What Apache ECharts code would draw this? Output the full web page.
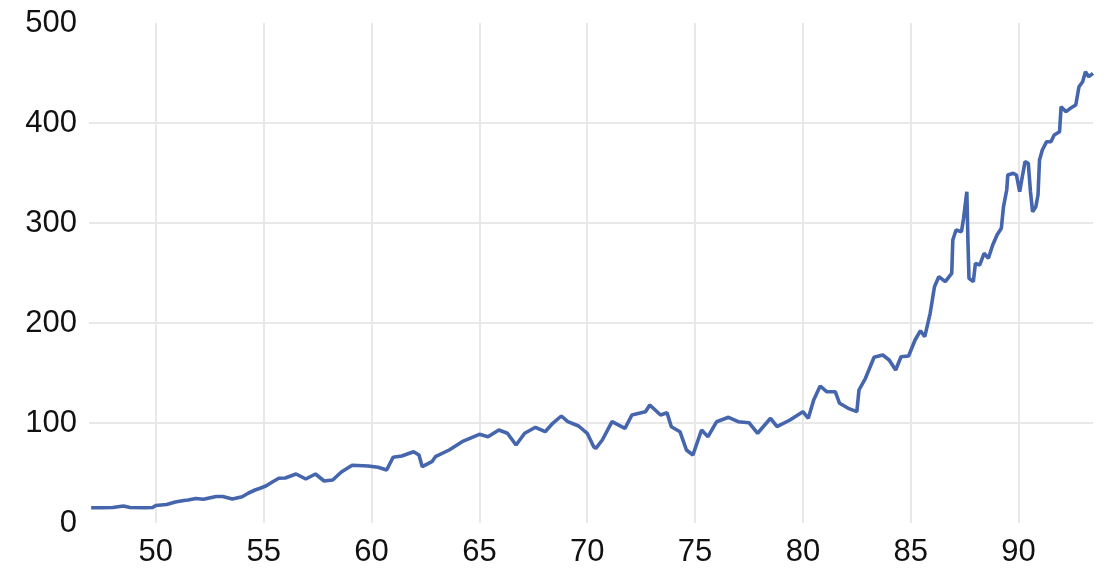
<!DOCTYPE html>
<html><head><meta charset="utf-8">
<script src="https://cdn.jsdelivr.net/npm/echarts@6/dist/echarts.min.js"></script>
<style>html,body{margin:0;padding:0;background:#fff}#c{width:1118px;height:580px}</style>
</head><body><div id="c"></div>
<script>
const years = [47.0,47.5,48.0,48.5,48.8,49.5,49.85,50.0,50.5,50.9,51.3,51.5,51.85,52.2,52.8,53.1,53.55,54.0,54.3,54.6,54.8,55.1,55.4,55.7,56.0,56.5,56.95,57.4,57.8,58.2,58.6,59.1,59.85,60.3,60.7,61.0,61.4,61.95,62.2,62.35,62.8,62.96,63.6,64.2,65.0,65.4,65.9,66.3,66.7,67.1,67.6,68.05,68.4,68.8,69.1,69.6,70.0,70.3,70.4,70.7,71.15,71.75,72.07,72.7,72.9,73.4,73.7,73.9,74.3,74.6,74.9,75.3,75.6,76.0,76.55,77.0,77.5,77.9,78.5,78.8,79.4,80.0,80.25,80.5,80.8,81.1,81.5,81.7,82.1,82.5,82.6,82.9,83.3,83.7,84.0,84.3,84.55,84.9,85.2,85.45,85.65,85.9,86.1,86.3,86.6,86.9,86.95,87.1,87.35,87.45,87.6,87.65,87.7,87.9,88.0,88.2,88.4,88.6,88.8,89.0,89.2,89.3,89.45,89.5,89.75,89.9,90.05,90.2,90.3,90.45,90.55,90.65,90.8,90.9,90.97,91.1,91.3,91.5,91.65,91.9,91.97,92.2,92.4,92.65,92.8,92.97,93.1,93.25,93.45];
const values = [15.3,15.3,15.5,17,15.5,15.3,15.5,17.5,18.5,21,22.5,23,24.5,23.7,26.5,26.5,24,26.3,30,33,34.5,37,41,44.7,45,49,44,49,42,43,51,57.7,57,55.7,53,65.7,67,71.3,68,56.3,61.3,66.3,73,81.3,88.7,86.3,93,89.7,78,89.7,95.7,91.3,99.7,107,101.3,97,89.7,76.3,74.7,83,101.3,94.7,108,111.3,118,108,110.3,96.3,91.3,73,68,93,86.3,101.3,105.7,101.3,100.3,89.7,104.7,96.3,103,111.3,104.7,123,137,131.3,131.3,119.7,114.7,111.3,133,144.7,165.7,168,163,153,166.3,167,183,192.3,186.3,209.7,236.3,246.3,241.3,249.7,283,293,291.3,304.7,331.3,283,244.7,241.3,259.7,258,269.7,264.7,278,288,294.7,316.3,333,348,349.7,348,331.3,349.7,361.3,359.7,331.3,311.3,316.3,328,363,373,381.3,381.3,388,391.3,416.3,411.3,414.7,418,436.3,441.3,451.3,446.3,449.7];
const xTicks = [50,55,60,65,70,75,80,85,90];
const yTicks = [0,100,200,300,400,500];

const chart = echarts.init(document.getElementById('c'), null, {renderer:'canvas'});
const font = 'Liberation Sans, Arial, sans-serif';
chart.setOption({
  animation:false,
  backgroundColor:'#fff',
  grid:{left:89,right:25,top:23,bottom:57,containLabel:false},
  xAxis:{type:'value',min:46.9,max:93.45,
    axisLine:{show:false},axisTick:{show:false,customValues:xTicks},
    axisLabel:{customValues:xTicks,color:'#111',fontSize:31,fontFamily:font,margin:14,
      formatter:v=>String(v)},
    splitLine:{show:true,lineStyle:{color:'#e8e8e8',width:2}}},
  yAxis:{type:'value',min:0,max:500,interval:100,
    axisLine:{show:false},axisTick:{show:false},
    axisLabel:{color:'#111',fontSize:31,fontFamily:font,margin:12,
      customValues:yTicks},
    splitLine:{show:true,showMinLine:false,showMaxLine:false,lineStyle:{color:'#e8e8e8',width:2}}},
  series:[{type:'line',data:years.map((y,i)=>[y,values[i]]),showSymbol:false,
    lineStyle:{color:'#4565ad',width:3.6},itemStyle:{color:'#4565ad'}}]
});
</script></body></html>
